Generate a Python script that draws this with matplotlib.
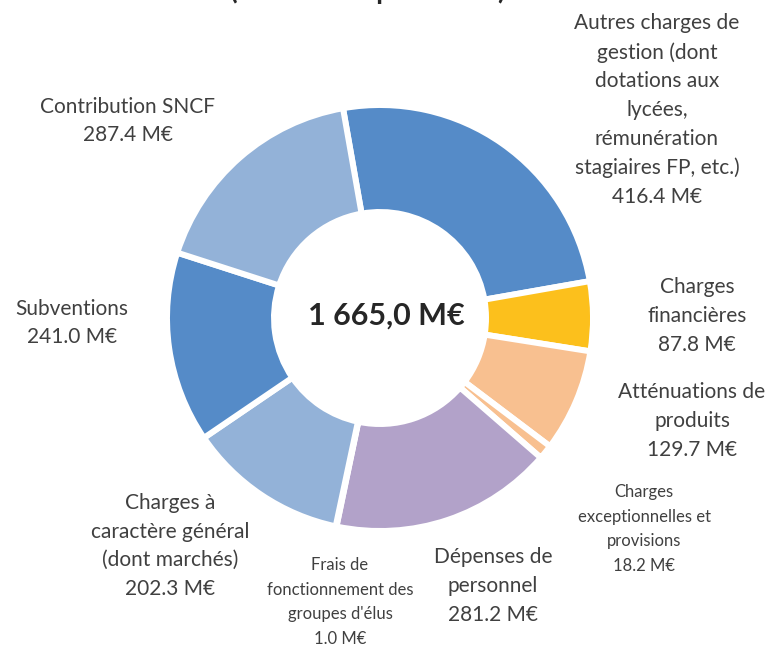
import matplotlib.pyplot as plt

plt.rcParams['font.family'] = ['Lato', 'DejaVu Sans']

# donut values (M€), clockwise from top
labels = ["Autres charges de\ngestion (dont\ndotations aux\nlycées,\nrémunération\nstagiaires FP, etc.)",
          "Charges\nfinancières",
          "Atténuations de\nproduits",
          "Charges\nexceptionnelles et\nprovisions",
          "Dépenses de\npersonnel",
          "Frais de\nfonctionnement des\ngroupes d'élus",
          "Charges à\ncaractère général\n(dont marchés)",
          "Subventions",
          "Contribution SNCF"]
values = [416.4, 87.8, 129.7, 18.2, 281.2, 1.0, 202.3, 241.0, 287.4]
total_label = "1 665,0 M€"

colors = ["#558BC8", "#FCC01C", "#F8C090", "#F8C090", "#B2A2C9",
          "#B2A2C9", "#93B2D8", "#558BC8", "#93B2D8"]

W, H = 766, 646
# label centres in pixels from top-left, font size, line spacing
label_pos = [(657, 110), (697, 316), (692, 421), (644, 529), (493, 586),
             (340, 602), (170, 546), (72, 323), (128, 121)]
label_size = [15, 15, 15, 12, 15, 12, 15, 15, 15]
label_ls = [1.54, 1.54, 1.54, 1.68, 1.54, 1.68, 1.54, 1.54, 1.54]

fig = plt.figure(figsize=(W / 100, H / 100), dpi=100)
ax = fig.add_axes([0, 0, 1, 1])
ax.set_xlim(0, W)
ax.set_ylim(0, H)
ax.set_aspect('equal')
ax.axis('off')

cx, cy = 380, H - 318
ax.pie(values, colors=colors, startangle=100, counterclock=False,
       center=(cx, cy), radius=213,
       wedgeprops=dict(width=107, edgecolor='white', linewidth=4.3))
ax.set_xlim(0, W)
ax.set_ylim(0, H)

txt_color = "#404040"
for lab, v, (x, y), fs, ls in zip(labels, values, label_pos, label_size, label_ls):
    ax.text(x, H - y, lab + "\n" + f"{v:.1f} M€", ha='center', va='center',
            fontsize=fs, color=txt_color, linespacing=ls)

ax.text(386, H - 316, total_label, ha='center', va='center',
        fontsize=22, fontweight='bold', color="#262626")

# title, cut off at the top of the picture
ax.text(368, H + 1, "(CA 2020 – périmètre)", ha='center', va='baseline',
        fontsize=20, fontweight='bold', color="#262626")

fig.savefig("out.png", dpi=100)
